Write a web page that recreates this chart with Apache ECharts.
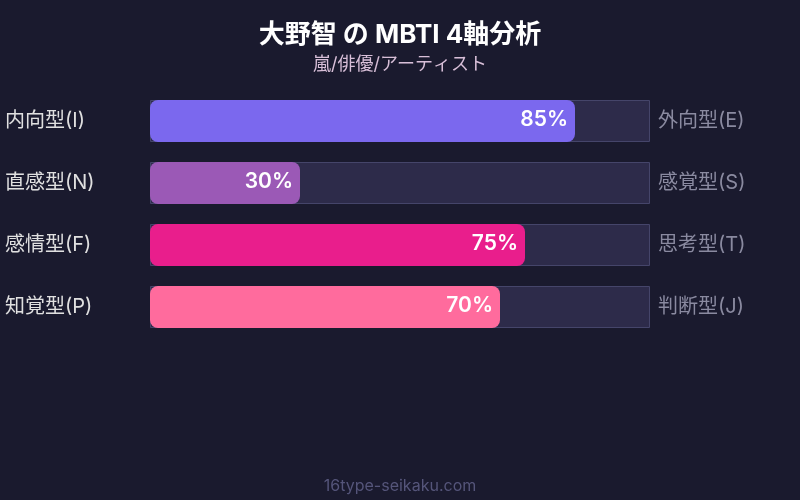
<!DOCTYPE html>
<html><head><meta charset="utf-8">
<script src="https://cdn.jsdelivr.net/npm/echarts@6/dist/echarts.min.js"></script>
<style>html,body{margin:0;padding:0;background:#1a1a2e;}#c{width:800px;height:500px;}</style>
</head><body><div id="c"></div>
<script>
const leftLabels = ['内向型(I)', '直感型(N)', '感情型(F)', '知覚型(P)'];
const rightLabels = ['外向型(E)', '感覚型(S)', '思考型(T)', '判断型(J)'];
const values = [85, 30, 75, 70];
const colors = ['#7b68ee', '#9b59b6', '#e91e8c', '#ff6b9d'];
const trackMax = [100, 100, 100, 100];

const chart = echarts.init(document.getElementById('c'));
const font = 'Inter, "Noto Sans CJK JP", sans-serif';
chart.setOption({
  backgroundColor: '#1a1a2e',
  title: [{
    text: '大野智 の MBTI 4軸分析',
    left: 'center', top: 17,
    textStyle: { color: '#ffffff', fontSize: 26, fontWeight: 'bold', fontFamily: font }
  }, {
    text: '嵐/俳優/アーティスト',
    left: 'center', top: 51,
    textStyle: { color: '#d8bfd8', fontSize: 18, fontWeight: 'normal', fontFamily: font }
  }, {
    text: '16type-seikaku.com',
    left: 'center', top: 473,
    textStyle: { color: '#55557a', fontSize: 16, fontWeight: 'normal', fontFamily: font }
  }],
  grid: { left: 150, right: 150, top: 90, height: 248 },
  xAxis: { type: 'value', min: 0, max: 100, show: false },
  yAxis: [{
    type: 'category', data: leftLabels, inverse: true,
    axisLine: { show: false }, axisTick: { show: false },
    axisLabel: { color: '#e0e0e0', fontSize: 20, fontFamily: font, align: 'left', margin: 145, padding: [0, 0, 3, 0] }
  }, {
    type: 'category', data: rightLabels, inverse: true, position: 'right',
    axisLine: { show: false }, axisTick: { show: false },
    axisLabel: { color: '#8a8aa0', fontSize: 20, fontFamily: font, margin: 8, padding: [0, 0, 3, 0] }
  }],
  series: [{
    type: 'bar', data: trackMax, barWidth: 42, silent: true,
    itemStyle: { color: '#2d2b4a', borderColor: '#45456a', borderWidth: 1 },
    z: 1
  }, {
    type: 'bar', barGap: '-100%', barWidth: 42, z: 2,
    data: values.map((v, i) => ({ value: v, itemStyle: { color: colors[i] } })),
    itemStyle: { borderRadius: 8 },
    label: {
      show: true, position: 'insideRight', offset: [-2, -1],
      formatter: '{c}%', color: '#ffffff', fontSize: 21, fontWeight: 600, fontFamily: font
    }
  }]
});
</script></body></html>
